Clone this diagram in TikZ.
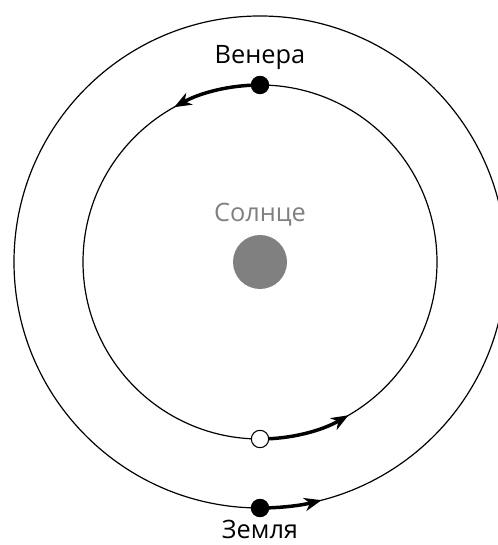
\documentclass[tikz,border=0pt]{standalone}
\usepackage{fontspec}
\setmainfont{Open Sans}
\usetikzlibrary{arrows.meta}
\definecolor{OrbitInk}{HTML}{000000}
\definecolor{SunGray}{HTML}{808080}
\tikzset{
  every node/.style={font=\fontsize{19}{23}\selectfont, text=OrbitInk},
  orbit/.style={draw=OrbitInk, line width=0.9pt},
  planet/.style={circle, draw=OrbitInk, fill=OrbitInk, line width=0.8pt, inner sep=0pt, minimum size=13pt},
  ghost/.style={planet, fill=white},
  motion/.style={-{Stealth[length=13pt,width=10pt,inset=4pt]}, draw=OrbitInk, line width=2.6pt},
}
\begin{document}
\begin{tikzpicture}[x=0.75pt, y=0.75pt]
  \useasboundingbox (0,0) rectangle (498,545);
  \clip (0,0) rectangle (498,545);
  % Orbits around the sun
  \coordinate (sunpos) at (260,283);
  \draw[orbit] (sunpos) circle [radius=177];
  \draw[orbit] (sunpos) circle [radius=246];
  % Positions on the orbits
  \coordinate (venuspos) at (260,460);
  \coordinate (ghostpos) at (260,106);
  \coordinate (earthpos) at (260,37);
  % Motion along the orbits
  \draw[motion] (venuspos) arc [start angle=90, end angle=119, radius=177];
  \draw[motion] (ghostpos) arc [start angle=-90, end angle=-60, radius=177];
  \draw[motion] (earthpos) arc [start angle=-90, end angle=-75.5, radius=246];
  % Bodies
  \node[circle, fill=SunGray, inner sep=0pt, minimum size=40.5pt] (sun) at (sunpos) {};
  \node[planet] (venus) at (venuspos) {};
  \node[ghost] (ghost) at (ghostpos) {};
  \node[planet] (earth) at (earthpos) {};
  % Labels
  \node[anchor=base, text=SunGray] (sunlabel) at (260,323) {Солнце};
  \node[anchor=base] (venuslabel) at (260,481) {Венера};
  \node[anchor=base] (earthlabel) at (260,7) {Земля};
\end{tikzpicture}
\end{document}
